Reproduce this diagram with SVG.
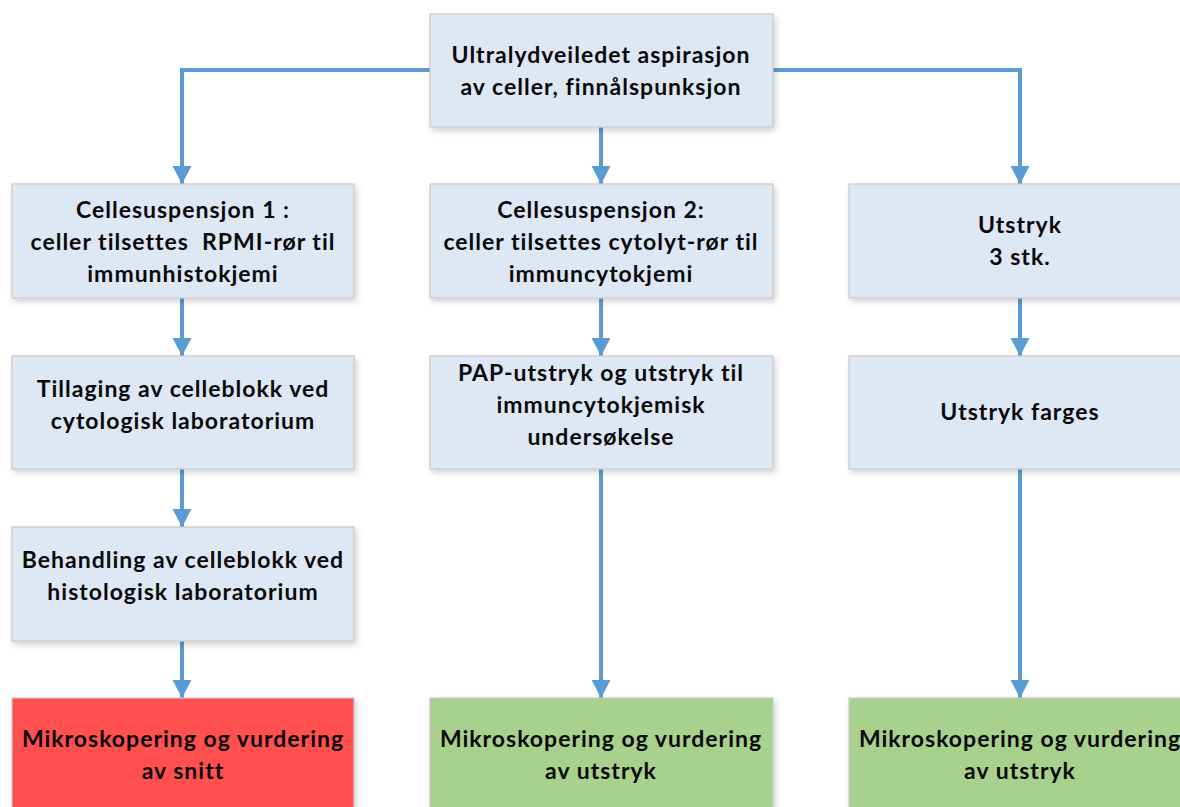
<svg xmlns="http://www.w3.org/2000/svg" width="1180" height="807" viewBox="0 0 1180 807">
<style>
.box{stroke:#c9c9c9;stroke-width:1.2;filter:url(#sh)}
.b{fill:#dee8f4}
.r{fill:#ff5050}
.g{fill:#a9d18e}
text{font-family:Lato,"Liberation Sans",sans-serif;font-weight:bold;font-size:23px;letter-spacing:1px;fill:#0a0a0a;text-anchor:middle;white-space:pre}
.c{fill:none;stroke:#5b9bd5;stroke-width:4;marker-end:url(#ah)}
</style>
<defs>
<filter id="sh" x="-10%" y="-10%" width="120%" height="130%">
<feDropShadow dx="2" dy="3" stdDeviation="3" flood-color="#000" flood-opacity="0.18"/>
</filter>
<marker id="ah" markerUnits="userSpaceOnUse" markerWidth="20" markerHeight="20" viewBox="0 0 20 20" refX="18" refY="10" orient="auto">
<path d="M0,0.5 L18,10 L0,19.5 Z" fill="#5b9bd5"/>
</marker>
</defs>
<rect width="1180" height="807" fill="#fff"/>
<g id="connectors">
<path class="c" d="M430,70 H182 V184"/>
<path class="c" d="M773,70 H1020 V184"/>
<path class="c" d="M601,127 V184"/>
<path class="c" d="M182,298 V356"/>
<path class="c" d="M601,298 V356"/>
<path class="c" d="M1020,298 V356"/>
<path class="c" d="M182,469 V527"/>
<path class="c" d="M182,641 V698"/>
<path class="c" d="M601,469 V698"/>
<path class="c" d="M1020,469 V698"/>
</g>
<g id="n0"><rect class="box b" x="430" y="14" width="343" height="113"/>
<text x="601" y="63">Ultralydveiledet aspirasjon</text><text x="601" y="95">av celler, finnålspunksjon</text></g>
<g id="n1"><rect class="box b" x="12" y="184" width="342" height="114"/>
<text x="183" y="218">Cellesuspensjon 1 :</text><text x="183" y="250" xml:space="preserve">celler tilsettes  RPMI-rør til</text><text x="183" y="282">immunhistokjemi</text></g>
<g id="n2"><rect class="box b" x="430" y="184" width="343" height="114"/>
<text x="601" y="218">Cellesuspensjon 2:</text><text x="601" y="250">celler tilsettes cytolyt-rør til</text><text x="601" y="282">immuncytokjemi</text></g>
<g id="n3"><rect class="box b" x="849" y="184" width="342" height="114"/>
<text x="1020" y="233">Utstryk</text><text x="1020" y="265">3 stk.</text></g>
<g id="n4"><rect class="box b" x="12" y="356" width="342" height="113"/>
<text x="183" y="397">Tillaging av celleblokk ved</text><text x="183" y="429">cytologisk laboratorium</text></g>
<g id="n5"><rect class="box b" x="430" y="356" width="343" height="113"/>
<text x="601" y="381">PAP-utstryk og utstryk til</text><text x="601" y="413">immuncytokjemisk</text><text x="601" y="445">undersøkelse</text></g>
<g id="n6"><rect class="box b" x="849" y="356" width="342" height="113"/>
<text x="1020" y="420">Utstryk farges</text></g>
<g id="n7"><rect class="box b" x="12" y="527" width="342" height="114"/>
<text x="183" y="568">Behandling av celleblokk ved</text><text x="183" y="600">histologisk laboratorium</text></g>
<g id="n8"><rect class="box r" x="12" y="698" width="342" height="120"/>
<text x="183" y="747">Mikroskopering og vurdering</text><text x="183" y="779">av snitt</text></g>
<g id="n9"><rect class="box g" x="430" y="698" width="343" height="120"/>
<text x="601" y="747">Mikroskopering og vurdering</text><text x="601" y="779">av utstryk</text></g>
<g id="n10"><rect class="box g" x="849" y="698" width="342" height="120"/>
<text x="1020" y="747">Mikroskopering og vurdering</text><text x="1020" y="779">av utstryk</text></g>
</svg>
